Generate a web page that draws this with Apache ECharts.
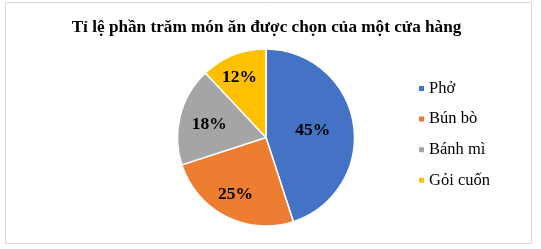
<!DOCTYPE html>
<html><head><meta charset="utf-8">
<script src="https://cdn.jsdelivr.net/npm/echarts@6/dist/echarts.min.js"></script>
<style>html,body{margin:0;padding:0;background:#fff}#c{width:541px;height:249px}</style>
</head><body><div id="c"></div>
<script>
const titleText = "Tỉ lệ phần trăm món ăn được chọn của một cửa hàng";
const categories = ["Phở", "Bún bò", "Bánh mì", "Gỏi cuốn"];
const values = [45, 25, 18, 12];
const colors = ["#4472C4", "#ED7D31", "#A5A5A5", "#FFC000"];
const labelOffsets = [[0, 0], [-9, 15], [-11, -1], [-9, -16]];

const chart = echarts.init(document.getElementById('c'), null, {renderer: 'canvas'});
const serif = '"Liberation Serif","Times New Roman",serif';
chart.setOption({
  animation: false,
  graphic: [{type: 'rect', shape: {x: 5.5, y: 2.5, width: 526, height: 241},
    style: {fill: 'none', stroke: '#d9d9d9', lineWidth: 1}, silent: true}],
  title: {text: titleText, left: 261.5, top: 14, textAlign: 'center',
    textStyle: {fontFamily: serif, fontWeight: 'bold', fontSize: 17.2, color: '#000'}},
  legend: {orient: 'vertical', left: 417, top: 80, padding: 0, itemWidth: 7, itemHeight: 7, itemGap: 13.6,
    icon: 'rect', selectedMode: false,
    textStyle: {fontFamily: serif, fontSize: 16.5, lineHeight: 16, color: '#000', padding: [0,0,0,-1]},
    data: categories},
  series: [{
    type: 'pie', center: [266, 137.5], radius: 88.5, startAngle: 90, clockwise: true,
    avoidLabelOverlap: false,
    itemStyle: {borderColor: '#fff', borderWidth: 1.5},
    label: {show: true, position: 'inside', formatter: '{c}%',
      fontFamily: serif, fontWeight: 'bold', fontSize: 17.5, color: '#000'},
    labelLine: {show: false},
    data: categories.map((n, i) => ({name: n, value: values[i],
      itemStyle: {color: colors[i]}, label: {offset: labelOffsets[i]}}))
  }]
});
</script></body></html>
